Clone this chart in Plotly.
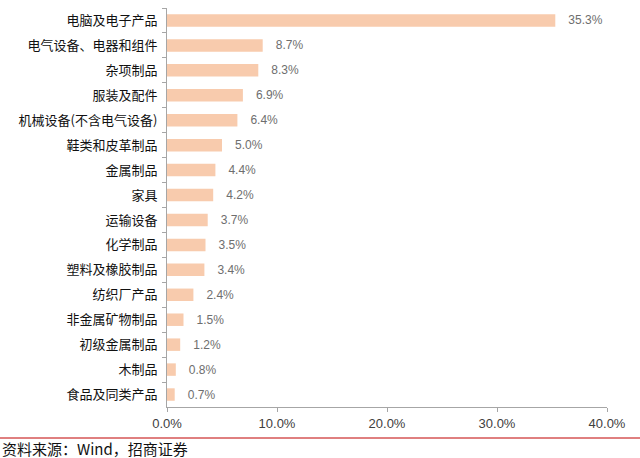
import plotly.graph_objects as go

categories = ["电脑及电子产品", "电气设备、电器和组件", "杂项制品", "服装及配件",
              "机械设备(不含电气设备)", "鞋类和皮革制品", "金属制品", "家具",
              "运输设备", "化学制品", "塑料及橡胶制品", "纺织厂产品",
              "非金属矿物制品", "初级金属制品", "木制品", "食品及同类产品"]
values = [35.3, 8.7, 8.3, 6.9, 6.4, 5.0, 4.4, 4.2, 3.7, 3.5, 3.4, 2.4, 1.5, 1.2, 0.8, 0.7]
x_ticks = [0, 10, 20, 30, 40]
x_tick_labels = ["0.0%", "10.0%", "20.0%", "30.0%", "40.0%"]
source_text = "资料来源：Wind，招商证券"

L, R, T, B = 167, 33, 8, 51
PW, PH = 640 - L - R, 458 - T - B

fig = go.Figure(go.Bar(
    x=values, y=categories, orientation="h",
    marker=dict(color="#F8CBAD", line=dict(width=0)),
    width=0.5,
    text=[f"   {v:.1f}%" for v in values], textposition="outside",
    constraintext="none",
    textfont=dict(color="#6E6E6E", size=12, family="Liberation Sans, Arial"),
    cliponaxis=False,
))

fig.update_layout(
    width=640, height=458,
    margin=dict(l=L, r=R, t=T, b=B),
    paper_bgcolor="white", plot_bgcolor="white",
    showlegend=False,
)
fig.update_xaxes(
    automargin=False,
    range=[0, 40], tickvals=x_ticks, ticktext=x_tick_labels,
    showgrid=False, zeroline=False,
    showline=True, linecolor="#A6A6A6", linewidth=1,
    ticks="outside", ticklen=4, tickcolor="#A6A6A6",
    tickfont=dict(color="#404040", size=13, family="Liberation Sans, Arial"),
)
fig.update_yaxes(
    automargin=False,
    autorange="reversed", showgrid=False, zeroline=False,
    showline=True, linecolor="#A6A6A6", linewidth=1,
    ticks="outside", ticklen=4, tickcolor="#A6A6A6", tickson="boundaries",
    tickfont=dict(color="#111111", size=13, family="Noto Sans CJK SC"),
    ticklabelstandoff=6,
)
fig.add_shape(type="line", xref="paper", yref="paper",
              x0=-L / PW, x1=(640 - L) / PW, y0=-(438 - 407) / PH, y1=-(438 - 407) / PH,
              line=dict(color="#C00000", width=1))
fig.add_annotation(text=source_text, xref="paper", yref="paper",
                   x=-L / PW, y=-(448 - 407) / PH, xanchor="left", yanchor="middle",
                   showarrow=False,
                   font=dict(size=15, color="#111111", family="Noto Sans CJK SC"))

fig.write_html("out.html", config={"displayModeBar": False},
               post_script="document.body.style.margin='0';document.body.style.overflow='hidden';")
